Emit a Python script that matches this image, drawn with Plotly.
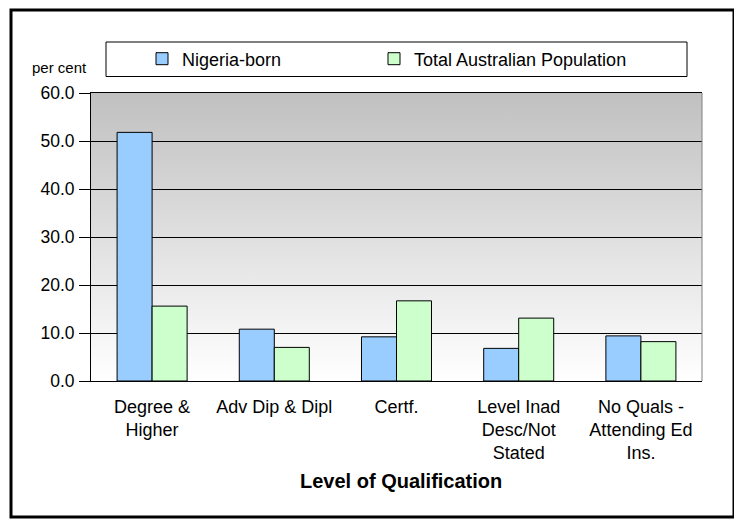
import base64
import plotly.graph_objects as go

categories = ["Degree &<br>Higher", "Adv Dip & Dipl", "Certf.",
              "Level Inad<br>Desc/Not<br>Stated", "No Quals -<br>Attending Ed<br>Ins."]
nigeria_born = [51.8, 10.8, 9.2, 6.8, 9.4]
total_australian = [15.6, 7.0, 16.7, 13.1, 8.2]
y_ticks = [0, 10, 20, 30, 40, 50, 60]
y_ticklabels = ["0.0", "10.0", "20.0", "30.0", "40.0", "50.0", "60.0"]

OFF = 8  # page body margin in the browser
W, H = 742 - OFF, 525 - OFF
L, R, T, B = 91 - OFF, 40, 93 - OFF, 144
PW, PH = W - L - R, H - T - B


def px(x):
    # screen x -> paper
    return (x - OFF - L) / PW


def py(y):
    # screen y -> paper
    return (H - B - (y - OFF)) / PH


svg = ('<svg xmlns="http://www.w3.org/2000/svg" width="10" height="100" preserveAspectRatio="none">'
       '<defs><linearGradient id="g" x1="0" y1="0" x2="0" y2="1">'
       '<stop offset="0" stop-color="#C0C0C0"/><stop offset="1" stop-color="#FFFFFF"/>'
       '</linearGradient></defs><rect width="10" height="100" fill="url(#g)"/></svg>')
bg_src = "data:image/svg+xml;base64," + base64.b64encode(svg.encode()).decode()

fig = go.Figure()
fig.add_trace(go.Bar(name="Nigeria-born", x=categories, y=nigeria_born, legend="legend",
                     marker=dict(color="#99CCFF", line=dict(color="#000000", width=1))))
fig.add_trace(go.Bar(name="Total Australian Population", x=categories, y=total_australian,
                     legend="legend2",
                     marker=dict(color="#CCFFCC", line=dict(color="#000000", width=1))))

leg_common = dict(orientation="h", xanchor="left", yanchor="middle", y=py(59),
                  font=dict(size=18), bgcolor="rgba(0,0,0,0)", borderwidth=0)

fig.update_layout(
    width=W, height=H,
    margin=dict(l=L, r=R, t=T, b=B),
    paper_bgcolor="white",
    plot_bgcolor="rgba(0,0,0,0)",
    font=dict(family="Liberation Sans, Arial, sans-serif", color="black"),
    barmode="group", bargap=0.427, bargroupgap=0,
    showlegend=True,
    legend=dict(x=px(142), **leg_common),
    legend2=dict(x=px(374), **leg_common),
    images=[dict(source=bg_src, xref="paper", yref="paper", x=0, y=1, sizex=1, sizey=1,
                 sizing="stretch", xanchor="left", yanchor="top", layer="below")],
    xaxis=dict(showline=True, linecolor="black", linewidth=1, mirror=True,
               ticks="", tickfont=dict(size=18), showgrid=False,
               ticklabelstandoff=9),
    yaxis=dict(range=[0, 60], tickvals=y_ticks, ticktext=y_ticklabels,
               showline=True, linecolor="black", linewidth=1,
               ticks="outside", ticklen=11, tickcolor="black",
               tickfont=dict(size=17.5), ticklabelstandoff=1,
               showgrid=True, gridcolor="black", gridwidth=1, zeroline=False),
    shapes=[
        dict(type="line", xref="paper", yref="paper", x0=1, x1=1, y0=0, y1=1,
             line=dict(color="#808080", width=1)),
        dict(type="rect", xref="paper", yref="paper", x0=px(106), x1=px(687),
             y0=py(76.5), y1=py(42), line=dict(color="black", width=1),
             fillcolor="white", layer="below"),
        dict(type="rect", xref="paper", yref="paper", x0=px(11), x1=px(734),
             y0=py(517), y1=py(10), line=dict(color="black", width=3)),
    ],
    annotations=[
        dict(text="per cent", xref="paper", yref="paper", x=px(59.3), y=py(68),
             xanchor="center", yanchor="middle", showarrow=False, font=dict(size=15)),
        dict(text="<b>Level of Qualification</b>", xref="paper", yref="paper",
             x=px(401.5), y=py(481), xanchor="center", yanchor="middle",
             showarrow=False, font=dict(size=20)),
    ],
)

fig.write_html("out.html")
